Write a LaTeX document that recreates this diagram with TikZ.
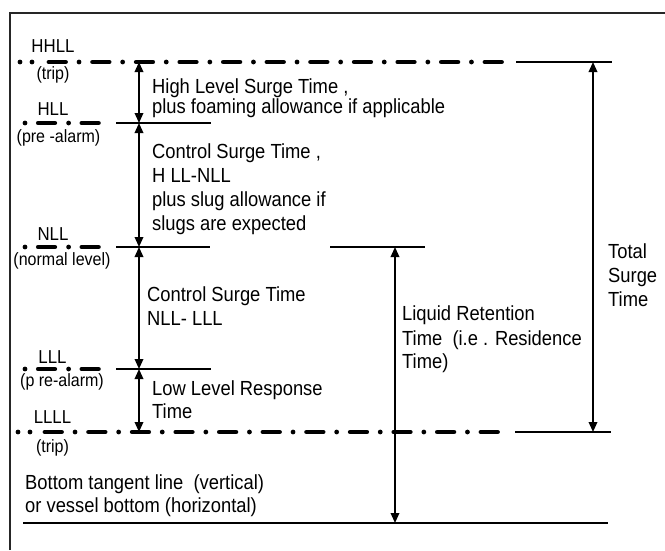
\documentclass[tikz,border=0pt]{standalone}
\usepackage{fontspec}
\setmainfont{Liberation Sans}[FakeStretch=0.9]
\usetikzlibrary{arrows.meta}
\begin{document}
\begin{tikzpicture}[x=1pt,y=-1pt,
  frameline/.style={line width=2.6pt, black!85},
  solidlevel/.style={line width=1.4pt},
  dashlong/.style={line width=4.8pt, line cap=round, dash pattern=on 16.5pt off 13.55pt on 0pt off 13.55pt},
  dashshort/.style={line width=4.8pt, line cap=round, dash pattern=on 0pt off 13.3pt on 16.5pt off 13.8pt},
  dim/.style={line width=1.8pt, {Triangle[width=8.5pt,length=10pt]}-{Triangle[width=8.5pt,length=10pt]}},
  lvl/.style={font=\fontsize{18.7pt}{22pt}\selectfont, inner sep=0pt, anchor=base},
  sublbl/.style={font=\fontsize{17.8pt}{21pt}\selectfont, inner sep=0pt, anchor=base},
  txt/.style={font=\fontsize{20.4pt}{24pt}\selectfont, inner sep=0pt, anchor=base west, align=left},
]
\useasboundingbox (0,0) rectangle (665,550);
% frame
\draw[frameline] (10,550) -- (10,13) -- (665,13);

% level lines: HHLL
\fill (20,62) circle (2.4pt);
\fill (32,62) circle (2.4pt);
\draw[dashlong] (49,62) -- (502,62);
\draw[solidlevel] (516,62) -- (612,62);
% HLL
\draw[dashshort] (25,123) -- (99,123);
\draw[solidlevel] (116,123) -- (211,123);
% NLL
\draw[dashshort] (25,247) -- (99,247);
\draw[solidlevel] (116,247) -- (210,247);
\draw[solidlevel] (330,247) -- (425,247);
% LLL
\draw[dashshort] (25,369) -- (99,369);
\draw[solidlevel] (116,369) -- (211,369);
% LLLL
\fill (18,432) circle (2.4pt);
\fill (30,432) circle (2.4pt);
\draw[dashlong] (45,432) -- (498,432);
\draw[solidlevel] (515,432) -- (611,432);
% bottom
\draw[solidlevel] (23,523) -- (608,523);

% coordinates for dimension arrows
\coordinate (a0) at (139,62);
\coordinate (a1) at (139,123);
\coordinate (a2) at (139,247);
\coordinate (a3) at (139,369);
\coordinate (a4) at (139,432);
\coordinate (r0) at (395,247);
\coordinate (r1) at (395,523);
\coordinate (s0) at (593,62);
\coordinate (s1) at (593,432);
\draw[dim] (a0) -- (a1);
\draw[dim] (a1) -- (a2);
\draw[dim] (a2) -- (a3);
\draw[dim] (a3) -- (a4);
\draw[dim] (r0) -- (r1);
\draw[dim] (s0) -- (s1);

% level labels
\node[lvl] (hhll) at (53,52) {HHLL};
\node[sublbl] (trip1) at (53,79) {(trip)};
\node[lvl] (hll) at (53,115) {HLL};
\node[sublbl] (pre1) at (58.5,142) {(pre -alarm)};
\node[lvl] (nll) at (53,240) {NLL};
\node[sublbl] (norm) at (62,265) {(normal level)};
\node[lvl] (lll) at (52.5,363) {LLL};
\node[sublbl] (pre2) at (62,386) {(p re-alarm)};
\node[lvl] (llll) at (52.5,423) {LLLL};
\node[sublbl] (trip2) at (52.5,452) {(trip)};

% descriptive texts (anchored at the baseline of the last line)
\node[txt] (t1) at (152,113) {High Level Surge Time ,\\[-4pt]plus foaming allowance if applicable};
\node[txt] (t2) at (152,230) {Control Surge Time ,\\H LL-NLL\\plus slug allowance if\\slugs are expected};
\node[txt] (t3) at (147,325) {Control Surge Time\\NLL- LLL};
\node[txt] (t4) at (152,418) {Low Level Response\\[-1pt]Time};
\node[txt] (t5) at (25,512) {Bottom tangent line~ (vertical)\\[-1pt]or vessel bottom (horizontal)};
\node[txt] (t6) at (402,368) {Liquid Retention\\[1pt]Time~ (i.e . Residence\\[-1pt]Time)};
\node[txt] (t7) at (608,306) {Total\\Surge\\Time};
\end{tikzpicture}
\end{document}
